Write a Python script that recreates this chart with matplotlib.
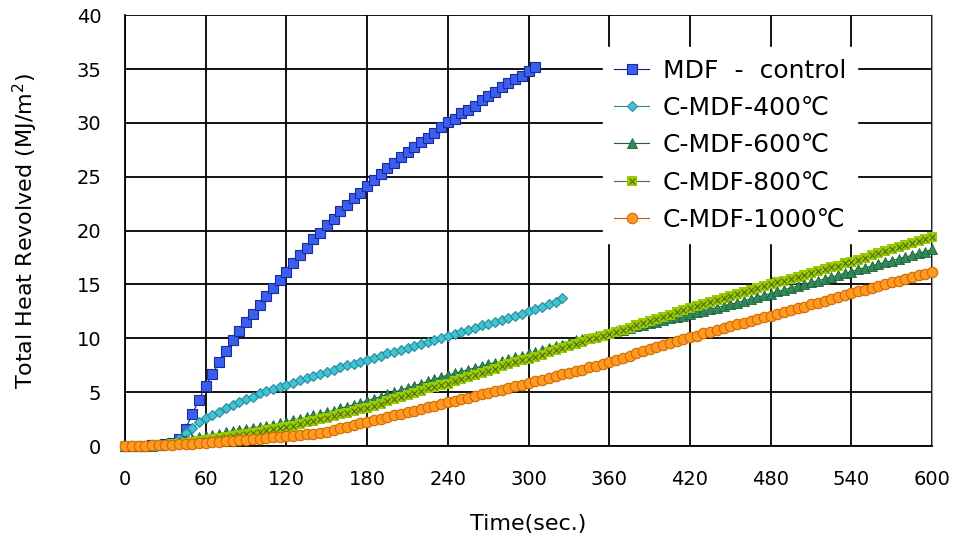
import numpy as np
import matplotlib
matplotlib.use("Agg")
import matplotlib.pyplot as plt
from matplotlib.legend_handler import HandlerTuple

plt.rcParams['font.family'] = ['DejaVu Sans', 'Noto Sans CJK KR']

# ---- data (MJ/m2, sampled every 5 s) ----
t_mdf = np.arange(0, 306, 5)
mdf_control = [0, 0, 0, 0.05, 0.1, 0.1, 0.2, 0.3, 0.7, 1.6,
               3.0, 4.3, 5.6, 6.7, 7.8, 8.8, 9.8, 10.7, 11.5, 12.3,
               13.1, 13.9, 14.7, 15.4, 16.2, 17.0, 17.7, 18.4, 19.2, 19.8,
               20.5, 21.1, 21.8, 22.4, 23.0, 23.5, 24.1, 24.7, 25.3, 25.8,
               26.3, 26.8, 27.3, 27.8, 28.2, 28.6, 29.1, 29.6, 30.1, 30.4,
               30.9, 31.2, 31.6, 32.1, 32.5, 32.9, 33.3, 33.7, 34.1, 34.4,
               34.8, 35.2]

t_400 = np.arange(0, 326, 5)
c_mdf_400 = [0, 0, 0, 0, 0.05, 0.1, 0.1, 0.3, 0.7, 1.2,
             1.7, 2.2, 2.6, 2.9, 3.2, 3.5, 3.8, 4.1, 4.4, 4.6,
             4.9, 5.1, 5.3, 5.5, 5.7, 5.9, 6.1, 6.3, 6.5, 6.7,
             6.9, 7.1, 7.3, 7.5, 7.6, 7.8, 8.0, 8.2, 8.4, 8.6,
             8.7, 8.9, 9.1, 9.3, 9.5, 9.7, 9.8, 10.0, 10.2, 10.4,
             10.6, 10.8, 11.0, 11.2, 11.3, 11.5, 11.7, 11.9, 12.1, 12.3,
             12.5, 12.7, 12.9, 13.2, 13.4, 13.7]

t_full = np.arange(0, 601, 5)
c_mdf_600 = [0, 0, 0, 0, 0.05, 0.1, 0.15, 0.25, 0.4, 0.55,
             0.7, 0.8, 0.95, 1.05, 1.15, 1.3, 1.4, 1.5, 1.6, 1.7,
             1.8, 1.9, 2.0, 2.1, 2.25, 2.4, 2.55, 2.7, 2.85, 3.0,
             3.15, 3.3, 3.5, 3.65, 3.85, 4.0, 4.2, 4.4, 4.6, 4.8,
             5.0, 5.2, 5.4, 5.6, 5.8, 6.0, 6.2, 6.4, 6.6, 6.75,
             6.9, 7.1, 7.25, 7.4, 7.6, 7.75, 7.9, 8.1, 8.25, 8.4,
             8.6, 8.75, 8.9, 9.1, 9.25, 9.4, 9.6, 9.8, 9.95, 10.05,
             10.2, 10.35, 10.5, 10.65, 10.8, 10.95, 11.1, 11.25, 11.4, 11.55,
             11.7, 11.85, 12.0, 12.1, 12.25, 12.4, 12.55, 12.7, 12.85, 13.0,
             13.15, 13.3, 13.5, 13.65, 13.8, 14.0, 14.15, 14.35, 14.5, 14.7,
             14.85, 15.0, 15.2, 15.35, 15.5, 15.7, 15.85, 16.05, 16.2, 16.4,
             16.55, 16.7, 16.9, 17.05, 17.2, 17.4, 17.55, 17.7, 17.9, 18.05,
             18.25]

c_mdf_800 = [0, 0, 0, 0, 0.05, 0.1, 0.1, 0.15, 0.2, 0.3,
             0.35, 0.45, 0.55, 0.65, 0.75, 0.85, 0.95, 1.05, 1.15, 1.25,
             1.35, 1.45, 1.55, 1.65, 1.75, 1.9, 2.05, 2.2, 2.35, 2.5,
             2.65, 2.8, 2.95, 3.1, 3.25, 3.4, 3.55, 3.75, 3.95, 4.15,
             4.35, 4.55, 4.75, 4.95, 5.15, 5.35, 5.5, 5.65, 5.8, 6.0,
             6.2, 6.4, 6.6, 6.8, 7.0, 7.2, 7.4, 7.6, 7.8, 7.95,
             8.1, 8.3, 8.5, 8.7, 8.9, 9.1, 9.3, 9.5, 9.7, 9.9,
             10.05, 10.2, 10.4, 10.6, 10.8, 11.0, 11.2, 11.4, 11.6, 11.8,
             12.0, 12.2, 12.4, 12.6, 12.8, 13.0, 13.2, 13.35, 13.55, 13.7,
             13.9, 14.1, 14.3, 14.45, 14.65, 14.85, 15.0, 15.2, 15.35, 15.55,
             15.7, 15.9, 16.05, 16.25, 16.4, 16.6, 16.75, 16.95, 17.1, 17.3,
             17.5, 17.7, 17.9, 18.1, 18.3, 18.5, 18.7, 18.85, 19.05, 19.2,
             19.4]

c_mdf_1000 = [0, 0, 0.02, 0.04, 0.06, 0.08, 0.1, 0.12, 0.15, 0.18,
              0.2, 0.25, 0.3, 0.35, 0.4, 0.45, 0.5, 0.55, 0.6, 0.65,
              0.7, 0.75, 0.8, 0.85, 0.9, 0.95, 1.0, 1.1, 1.15, 1.25,
              1.35, 1.5, 1.65, 1.8, 1.95, 2.1, 2.25, 2.4, 2.55, 2.7,
              2.85, 3.0, 3.15, 3.3, 3.45, 3.6, 3.75, 3.9, 4.05, 4.2,
              4.35, 4.5, 4.65, 4.8, 4.95, 5.1, 5.25, 5.4, 5.55, 5.7,
              5.85, 6.0, 6.15, 6.3, 6.5, 6.65, 6.8, 6.95, 7.1, 7.3,
              7.45, 7.65, 7.8, 8.0, 8.2, 8.4, 8.6, 8.8, 9.0, 9.2,
              9.4, 9.6, 9.75, 9.9, 10.1, 10.25, 10.45, 10.6, 10.8, 10.95,
              11.1, 11.3, 11.45, 11.6, 11.8, 11.95, 12.1, 12.25, 12.45, 12.6,
              12.8, 12.95, 13.15, 13.3, 13.5, 13.65, 13.85, 14.0, 14.2, 14.35,
              14.5, 14.7, 14.85, 15.0, 15.2, 15.35, 15.5, 15.65, 15.85, 16.0,
              16.15]

labels = ['MDF  -  control', 'C-MDF-400\u2103', 'C-MDF-600\u2103',
          'C-MDF-800\u2103', 'C-MDF-1000\u2103']
x_ticks = list(range(0, 601, 60))
y_ticks = list(range(0, 41, 5))

# ---- figure ----
fig = plt.figure(figsize=(9.62, 5.42), dpi=100)
ax = fig.add_axes([0.130, 0.177, 0.839, 0.795])

h1, = ax.plot(t_mdf, mdf_control, '-', color='#1a1a80', lw=0.8, marker='s', ms=7.5,
              mfc='#3a5ef0', mec='#1a2a9a', mew=0.8, clip_on=False, zorder=3)
h2, = ax.plot(t_400, c_mdf_400, '-', color='#2a8a9a', lw=0.8, marker='D', ms=5.5,
              mfc='#40c4d4', mec='#2a8a9a', mew=0.8, clip_on=False, zorder=3)
h3, = ax.plot(t_full, c_mdf_600, '-', color='#1f5f3a', lw=0.8, marker='^', ms=7,
              mfc='#2e8b57', mec='#1f5f3a', mew=0.6, clip_on=False, zorder=3)
h4a, = ax.plot(t_full, c_mdf_800, '-', color='#556b2f', lw=0.8, marker='s', ms=7,
               mfc='#99cc00', mec='#99cc00', mew=0, clip_on=False, zorder=3)
h4b, = ax.plot(t_full, c_mdf_800, linestyle='none', marker='x', ms=4,
               mec='#4a5a20', mew=0.7, clip_on=False, zorder=3)
h5, = ax.plot(t_full, c_mdf_1000, '-', color='#c0600a', lw=0.8, marker='o', ms=7.5,
              mfc='#ff9922', mec='#d06a00', mew=0.8, clip_on=False, zorder=3)

ax.set_xlim(0, 600)
ax.set_ylim(0, 40)
ax.set_xticks(x_ticks)
ax.set_yticks(y_ticks)
ax.tick_params(length=0, labelsize=14)
ax.tick_params(axis='x', pad=17)
ax.tick_params(axis='y', pad=17)
ax.grid(True, color='black', lw=1.3)
ax.set_axisbelow(True)
ax.spines['top'].set_visible(False)
ax.spines['right'].set_color('#999999')
ax.spines['left'].set_linewidth(1.3)
ax.spines['bottom'].set_linewidth(1.3)

ax.set_xlabel('Time(sec.)', fontsize=16, labelpad=18)
ax.set_ylabel('Total Heat Revolved (MJ/m$^{2}$)', fontsize=16, labelpad=26)

leg = ax.legend([h1, h2, h3, (h4a, h4b), h5], labels,
                handler_map={tuple: HandlerTuple(ndivide=1, pad=0)},
                loc='upper left', bbox_to_anchor=(0.592, 0.925), borderaxespad=0,
                fontsize=18, frameon=True, fancybox=False, framealpha=1,
                edgecolor='white', facecolor='white', handlelength=1.4,
                handletextpad=0.55, labelspacing=0.53, borderpad=0.45)
leg.set_zorder(5)

fig.savefig('out.png', dpi=100)
